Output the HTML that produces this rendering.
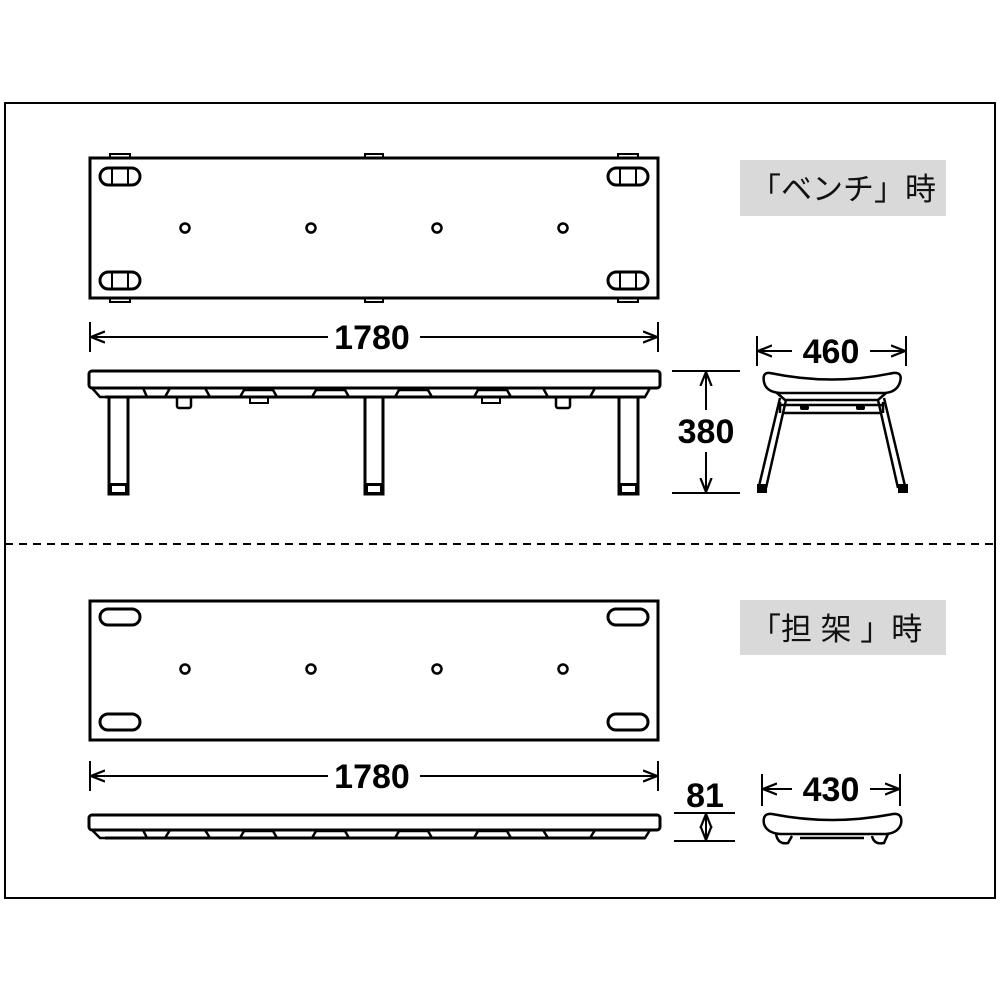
<!DOCTYPE html>
<html><head><meta charset="utf-8"><style>
html,body{margin:0;padding:0;background:#fff;width:1000px;height:1000px;overflow:hidden}
svg{display:block}
text{font-family:"Liberation Sans","Noto Sans CJK JP",sans-serif}
.d{font-weight:bold;font-size:34px;text-anchor:middle}
.j{font-size:31px;fill:#111}
</style></head><body>
<svg width="1000" height="1000" viewBox="0 0 1000 1000" xmlns="http://www.w3.org/2000/svg">
<defs>
<marker id="a" viewBox="0 0 10 10" refX="10" refY="5" markerWidth="7" markerHeight="7" orient="auto-start-reverse"><path d="M0,1 L10,5 L0,9" fill="none" stroke="#000" stroke-width="1.6"/></marker>
</defs>
<rect x="5" y="103" width="990" height="795" fill="none" stroke="#000" stroke-width="2"/>
<line x1="5" y1="544" x2="995" y2="544" stroke="#000" stroke-width="2" stroke-dasharray="8,6"/>

<g fill="none" stroke="#000" stroke-width="3">
<rect x="110" y="154" width="20" height="5" stroke-width="2"/>
<rect x="365" y="154" width="18" height="5" stroke-width="2"/>
<rect x="618" y="154" width="20" height="5" stroke-width="2"/>
<rect x="110" y="297" width="20" height="5" stroke-width="2"/>
<rect x="365" y="297" width="18" height="5" stroke-width="2"/>
<rect x="618" y="297" width="20" height="5" stroke-width="2"/>
<rect x="90" y="158" width="568" height="140" fill="#fff"/>
<rect x="100" y="168" width="40" height="17" rx="8.5"/>
<rect x="100" y="272" width="40" height="17" rx="8.5"/>
<rect x="608" y="168" width="40" height="17" rx="8.5"/>
<rect x="608" y="272" width="40" height="17" rx="8.5"/>
<line x1="112" y1="168" x2="112" y2="185" stroke-width="2"/><line x1="128" y1="168" x2="128" y2="185" stroke-width="2"/>
<line x1="112" y1="272" x2="112" y2="289" stroke-width="2"/><line x1="128" y1="272" x2="128" y2="289" stroke-width="2"/>
<line x1="620" y1="168" x2="620" y2="185" stroke-width="2"/><line x1="636" y1="168" x2="636" y2="185" stroke-width="2"/>
<line x1="620" y1="272" x2="620" y2="289" stroke-width="2"/><line x1="636" y1="272" x2="636" y2="289" stroke-width="2"/>
<circle cx="185" cy="228" r="4.5" stroke-width="2.5"/><circle cx="311" cy="228" r="4.5" stroke-width="2.5"/>
<circle cx="437" cy="228" r="4.5" stroke-width="2.5"/><circle cx="563" cy="228" r="4.5" stroke-width="2.5"/>

<rect x="89" y="371" width="571" height="17" rx="3"/>
<path d="M92,388 L100,397 L108,397 M650,388 L645,397 L638,397" stroke-width="2.5"/>
<line x1="105" y1="397" x2="645" y2="397"/>
<path d="M143,388 L147,397 M165,397 L170,388 M205,388 L210,397 M240,397 L244,390 L273,390 L277,397 M312,397 L316,390 L345,390 L349,397 M395,397 L399,390 L428,390 L432,397 M474,397 L478,390 L507,390 L511,397 M543,388 L548,397 M590,397 L595,388" stroke-width="2.5"/>
<rect x="250" y="397" width="18" height="6" stroke-width="2"/><rect x="482" y="397" width="18" height="6" stroke-width="2"/>
<rect x="177" y="397" width="14" height="11" rx="2" stroke-width="2.5"/><rect x="556" y="397" width="14" height="11" rx="2" stroke-width="2.5"/>
<rect x="109" y="397" width="19" height="97"/>
<rect x="365" y="397" width="18" height="97"/>
<rect x="619" y="397" width="19" height="97"/>
</g>
<rect x="109" y="483" width="19" height="11" fill="#000"/><rect x="112" y="486" width="13" height="6" fill="#fff"/>
<rect x="365" y="483" width="18" height="11" fill="#000"/><rect x="368" y="486" width="12" height="6" fill="#fff"/>
<rect x="619" y="483" width="19" height="11" fill="#000"/><rect x="622" y="486" width="13" height="6" fill="#fff"/>

<g stroke="#000" stroke-width="2" fill="none">
<line x1="90" y1="322" x2="90" y2="352"/><line x1="658" y1="322" x2="658" y2="352"/>
<line x1="91" y1="337" x2="328" y2="337" marker-start="url(#a)"/><line x1="420" y1="337" x2="657" y2="337" marker-end="url(#a)"/>
<line x1="672" y1="371" x2="740" y2="371"/><line x1="672" y1="493" x2="740" y2="493"/>
<line x1="706" y1="372" x2="706" y2="410" marker-start="url(#a)"/><line x1="706" y1="452" x2="706" y2="492" marker-end="url(#a)"/>
<line x1="757" y1="336" x2="757" y2="366"/><line x1="906" y1="336" x2="906" y2="366"/>
<line x1="758" y1="351" x2="792" y2="351" marker-start="url(#a)"/><line x1="870" y1="351" x2="905" y2="351" marker-end="url(#a)"/>
</g>
<text class="d" x="372" y="349">1780</text>
<text class="d" x="706" y="443">380</text>
<text class="d" x="831" y="363">460</text>

<g fill="none" stroke="#000" stroke-width="2.5">
<path d="M770,373 Q832,386 893,373 Q903,372 900,382 Q897,392 885,393 L780,393 Q766,392 764,382 Q762,372 770,373 Z"/>
<path d="M777,393 L785,400 L878,400 L886,393"/>
<line x1="780" y1="405" x2="882" y2="405"/><line x1="783" y1="413" x2="880" y2="413"/>
<path d="M780,398 L759,486 M786,400 L766,488 M884,398 L905,486 M878,400 L898,488"/>
<line x1="780" y1="402" x2="780" y2="413"/><line x1="883" y1="402" x2="883" y2="413"/>
</g>
<rect x="800" y="405" width="9" height="5" rx="2" fill="#000"/><rect x="856" y="405" width="9" height="5" rx="2" fill="#000"/>
<rect x="757" y="484" width="10" height="9" fill="#000"/><rect x="898" y="484" width="10" height="9" fill="#000"/>

<rect x="740" y="160" width="206" height="56" fill="#d9d9d9"/>
<text class="j" x="750" y="200">「ベンチ」時</text>
<rect x="740" y="600" width="206" height="55" fill="#d9d9d9"/>
<text class="j" x="750" y="640">「担 架 」時</text>

<g fill="none" stroke="#000" stroke-width="3">
<rect x="90" y="601" width="568" height="139"/>
<rect x="100" y="609" width="40" height="16" rx="8"/><rect x="100" y="714" width="40" height="16" rx="8"/>
<rect x="608" y="609" width="40" height="16" rx="8"/><rect x="608" y="714" width="40" height="16" rx="8"/>
<circle cx="185" cy="669" r="4.5" stroke-width="2.5"/><circle cx="311" cy="669" r="4.5" stroke-width="2.5"/>
<circle cx="437" cy="669" r="4.5" stroke-width="2.5"/><circle cx="563" cy="669" r="4.5" stroke-width="2.5"/>
<rect x="89" y="815" width="571" height="15" rx="3"/>
<path d="M92,830 L100,838 L108,838 M650,830 L645,838 L638,838" stroke-width="2.5"/>
<line x1="105" y1="838" x2="645" y2="838"/>
<path d="M143,830 L147,838 M165,838 L170,830 M205,830 L210,838 M240,838 L244,831 L273,831 L277,838 M312,838 L316,831 L345,831 L349,838 M395,838 L399,831 L428,831 L432,838 M474,838 L478,831 L507,831 L511,838 M543,830 L548,838 M590,838 L595,830" stroke-width="2.5"/>
<path d="M772,814 Q832,826 893,814 Q903,813 901,824 Q898,833 886,834 L780,834 Q767,833 764,824 Q762,813 772,814 Z" stroke-width="2.5"/>
<path d="M776,834 Q778,845 788,843 L792,836 M872,836 Q874,845 884,843 L888,834 M800,838 L864,838" stroke-width="2.5"/>
</g>
<g stroke="#000" stroke-width="2" fill="none">
<line x1="90" y1="761" x2="90" y2="791"/><line x1="658" y1="761" x2="658" y2="791"/>
<line x1="91" y1="776" x2="328" y2="776" marker-start="url(#a)"/><line x1="420" y1="776" x2="657" y2="776" marker-end="url(#a)"/>
<line x1="674" y1="813" x2="735" y2="813"/><line x1="674" y1="841" x2="735" y2="841"/>
<line x1="706" y1="814" x2="706" y2="840" marker-start="url(#a)" marker-end="url(#a)"/>
<line x1="762" y1="774" x2="762" y2="806"/><line x1="900" y1="774" x2="900" y2="806"/>
<line x1="763" y1="789" x2="792" y2="789" marker-start="url(#a)"/><line x1="870" y1="789" x2="899" y2="789" marker-end="url(#a)"/>
</g>
<text class="d" x="372" y="788">1780</text>
<text class="d" x="705" y="807">81</text>
<text class="d" x="831" y="801">430</text>
</svg>
</body></html>
